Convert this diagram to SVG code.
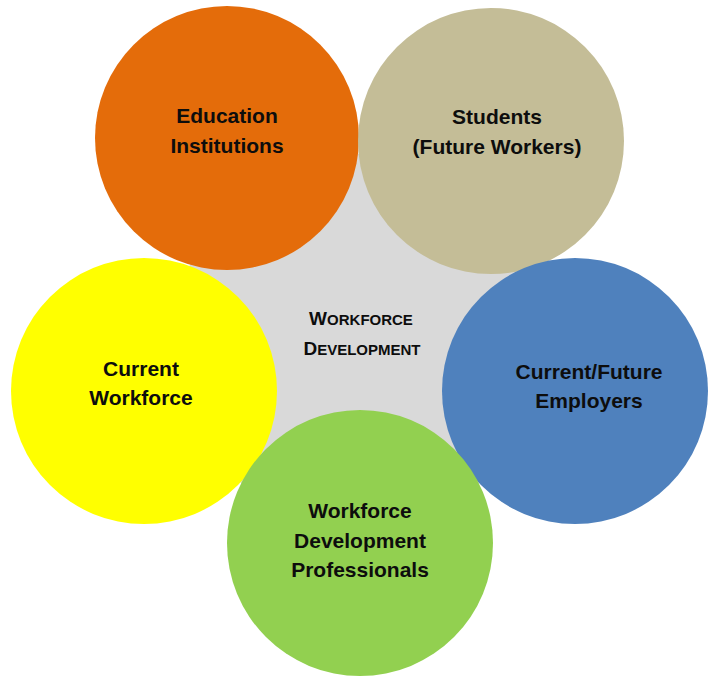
<svg xmlns="http://www.w3.org/2000/svg" width="708" height="677" viewBox="0 0 708 677">
<style>
.lbl{font-family:"Liberation Sans",Arial,sans-serif;font-weight:bold;font-size:21px;fill:#0d0d0d;text-anchor:middle}
.ctr{font-family:"Liberation Sans",Arial,sans-serif;font-weight:bold;fill:#0d0d0d;text-anchor:middle}
.big{font-size:19px}
.sm{font-size:15px}
</style>
<rect width="708" height="677" fill="#ffffff"/>
<g id="center">
<circle cx="360" cy="340" r="186" fill="#d9d9d9"/>
<text class="ctr" x="361" y="325"><tspan class="big">W</tspan><tspan class="sm">ORKFORCE</tspan></text>
<text class="ctr" x="362" y="355"><tspan class="big">D</tspan><tspan class="sm">EVELOPMENT</tspan></text>
</g>
<g id="education">
<circle cx="227" cy="138" r="132" fill="#e46c0a"/>
<text class="lbl" x="227" y="123">Education</text>
<text class="lbl" x="227" y="153">Institutions</text>
</g>
<g id="students">
<circle cx="491" cy="141" r="133" fill="#c4bd97"/>
<text class="lbl" x="497" y="124">Students</text>
<text class="lbl" x="497" y="154">(Future Workers)</text>
</g>
<g id="current-workforce">
<circle cx="144" cy="391" r="133" fill="#ffff00"/>
<text class="lbl" x="141" y="376">Current</text>
<text class="lbl" x="141" y="405">Workforce</text>
</g>
<g id="employers">
<circle cx="575" cy="391" r="133" fill="#4f81bd"/>
<text class="lbl" x="589" y="379">Current/Future</text>
<text class="lbl" x="589" y="408">Employers</text>
</g>
<g id="professionals">
<circle cx="360" cy="543" r="133" fill="#92d050"/>
<text class="lbl" x="360" y="518">Workforce</text>
<text class="lbl" x="360" y="548">Development</text>
<text class="lbl" x="360" y="577">Professionals</text>
</g>
</svg>
